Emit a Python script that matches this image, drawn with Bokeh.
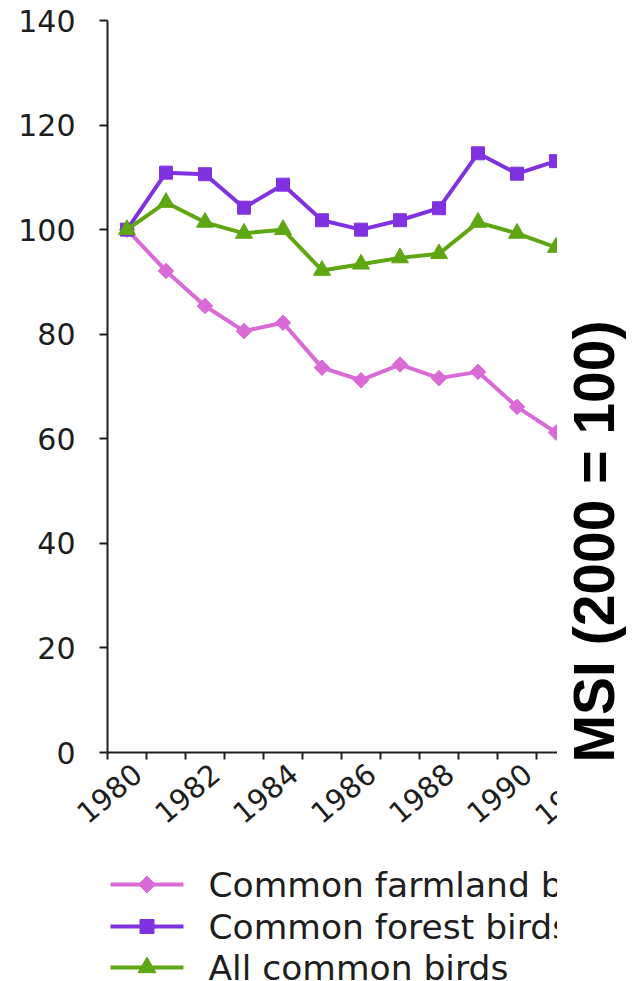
import math
from bokeh.plotting import figure
from bokeh.models import Range1d, FixedTicker
from bokeh.layouts import row
from bokeh.embed import file_html
from bokeh.resources import INLINE
from bokeh.core.properties import value

# ---------------- data ----------------
years = [1980, 1981, 1982, 1983, 1984, 1985, 1986, 1987, 1988, 1989, 1990, 1991]
farmland = [100, 92.1, 85.4, 80.6, 82.2, 73.6, 71.2, 74.2, 71.6, 72.8, 66.1, 61.2]
forest = [100, 110.9, 110.6, 104.2, 108.6, 101.8, 100.0, 101.8, 104.1, 114.6, 110.7, 113.1]
all_birds = [100, 105.2, 101.4, 99.3, 100.0, 92.2, 93.4, 94.6, 95.4, 101.4, 99.3, 96.6]
series_labels = ["Common farmland birds", "Common forest birds", "All common birds"]
x_tick_years = [1980, 1982, 1984, 1986, 1988, 1990, 1992]
y_ticks = [0, 20, 40, 60, 80, 100, 120, 140]
axis_title = "MSI (2000 = 100)"

# ---------------- layout / styles ----------------
W, H = 633, 981
FRAME_L, FRAME_R, FRAME_T, AXIS_Y = 107, 557, 20, 752      # pixels of the plotting area
YEAR_PX = 39.0
Y_MAX = 140
PXU = (AXIS_Y - FRAME_T) / Y_MAX                             # pixels per unit
X_AXIS_START = years[0] - 0.5
X_AXIS_END = x_tick_years[-1] + 0.5
# the figure's frame fills the whole canvas; the chart area is placed inside it
X0 = X_AXIS_START - FRAME_L / YEAR_PX
X1 = X_AXIS_START + (FRAME_R - FRAME_L) / YEAR_PX
Y0 = Y_MAX - (H - FRAME_T) / PXU
Y1 = Y_MAX + FRAME_T / PXU
LABEL_DX = 0.27         # small rightward nudge of the rotated year labels
LABEL_ANGLE = math.radians(40)
X_STANDOFF = 10

colors = ["#DA6AD6", "#8032E0", "#5EA612"]
markers = ["square", "square", "triangle"]
angles = [math.pi / 4, 0, 0]
sizes = [11, 13, 17]
TXT = "#1e1e1e"
FONT = "DejaVu Sans"
TICK_FS = "30px"
XTICK_FS = "29px"

p = figure(width=FRAME_R, height=H, x_range=Range1d(X0, X1), y_range=Range1d(Y0, Y1),
           output_backend="svg", toolbar_location=None, min_border=0)
p.outline_line_color = None
p.xgrid.visible = False
p.ygrid.visible = False
p.extra_x_ranges = {"px": Range1d(0, FRAME_R)}
p.extra_y_ranges = {"py": Range1d(H, 0)}

for vals, c, m, a, s in zip([farmland, forest, all_birds], colors, markers, angles, sizes):
    p.line(years, vals, line_color=c, line_width=4)
    p.scatter(years, vals, marker=m, angle=a, size=s, fill_color=c, line_color=c)

# y axis
ya = p.yaxis[0]
ya.fixed_location = X_AXIS_START
ya.bounds = (0, Y_MAX)
ya.ticker = FixedTicker(ticks=y_ticks)
ya.major_tick_out = 8
ya.major_tick_in = 0
ya.minor_tick_out = 0
ya.minor_tick_in = 0
ya.axis_line_width = 2
ya.axis_line_color = TXT
ya.major_tick_line_width = 2
ya.major_tick_line_color = TXT
ya.major_label_text_font = FONT
ya.major_label_text_font_size = TICK_FS
ya.major_label_text_color = TXT
ya.major_label_standoff = 24

# x axis (at value 0); its far end is cut by the frame edge like the reference
xa = p.xaxis[0]
xa.fixed_location = 0
xa.bounds = (X_AXIS_START, X_AXIS_END)
label_pos = [yr + LABEL_DX for yr in x_tick_years]
xa.ticker = FixedTicker(ticks=label_pos,
                        minor_ticks=[y - 0.5 for y in years] + [years[-1] + 0.5, x_tick_years[-1] + 0.5])
xa.major_label_overrides = {pos: str(yr) for pos, yr in zip(label_pos, x_tick_years)}
xa.major_tick_out = 0
xa.major_tick_in = 0
xa.minor_tick_out = 7
xa.minor_tick_in = 0
xa.minor_tick_line_width = 2
xa.minor_tick_line_color = TXT
xa.axis_line_width = 2
xa.axis_line_color = TXT
xa.major_label_orientation = LABEL_ANGLE
xa.major_label_text_font = FONT
xa.major_label_text_font_size = XTICK_FS
xa.major_label_text_color = TXT
xa.major_label_standoff = X_STANDOFF

# year labels past the visible range: drawn as text so the frame edge cuts them
beyond = [(pos, yr) for pos, yr in zip(label_pos, x_tick_years) if pos > X1]
p.text([b[0] for b in beyond], [0] * len(beyond), text=[str(b[1]) for b in beyond],
       angle=LABEL_ANGLE, text_align="right", text_baseline="middle",
       x_offset=-10, y_offset=X_STANDOFF + 9,
       text_font=value(FONT), text_font_size=XTICK_FS, text_color=TXT)

# legend (drawn inside the frame so it is cut at the right edge)
row_y = [884, 926, 967]
lx0, lx1, ltx = 110, 183, 208
leg_sizes = [12, 14, 18]
for ry, lab, c, m, a, s in zip(row_y, series_labels, colors, markers, angles, leg_sizes):
    p.line([lx0, lx1], [ry, ry], line_color=c, line_width=4, x_range_name="px", y_range_name="py")
    p.scatter([(lx0 + lx1) / 2], [ry], marker=m, angle=a, size=s, fill_color=c, line_color=c,
              x_range_name="px", y_range_name="py")
    p.text([ltx], [ry], text=[lab], text_baseline="middle", text_align="left",
           text_font=value(FONT), text_font_size="34.5px", text_color=TXT,
           x_range_name="px", y_range_name="py")

# side panel with the big rotated title
SIDE_W = W - FRAME_R
side = figure(width=SIDE_W, height=H, x_range=Range1d(0, SIDE_W), y_range=Range1d(H, 0),
              output_backend="svg", toolbar_location=None,
              x_axis_location=None, y_axis_location=None, min_border=0)
side.outline_line_color = None
side.xgrid.visible = False
side.ygrid.visible = False
side.text([593 - FRAME_R], [541], text=[axis_title], angle=math.pi / 2, text_align="center",
          text_baseline="middle", text_font=value("Liberation Sans"), text_font_style="bold",
          text_font_size="57px", text_color="black")

layout = row(p, side)
open("out.html", "w").write(file_html(layout, INLINE))
